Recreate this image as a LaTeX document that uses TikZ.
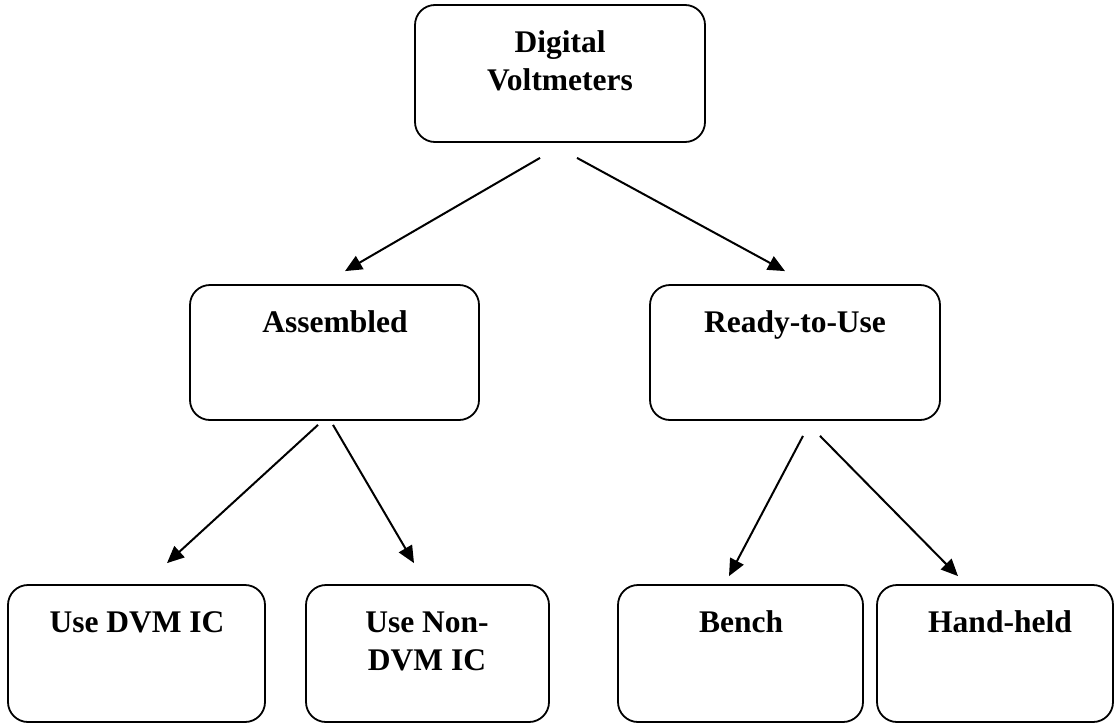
\documentclass[tikz,border=0pt]{standalone}
\usepackage{fontspec}
\setmainfont{Liberation Serif}
\usetikzlibrary{arrows.meta,calc}
\begin{document}
\begin{tikzpicture}[x=1pt,y=-1pt,
  box/.style={draw, line width=1.8pt, rounded corners=20pt, inner sep=0pt},
  lbl/.style={font=\fontsize{31.5}{37.8}\selectfont\bfseries, inner sep=0pt, align=center, anchor=base},
  arr/.style={-{Triangle[length=17pt,width=15pt]}, line width=2pt}]
\useasboundingbox (0,0) rectangle (1115,723);
% boxes
\node[box, minimum width=290pt, minimum height=137pt] (top) at (560,73.5) {};
\node[box, minimum width=289pt, minimum height=135pt] (asm) at (334.5,352.5) {};
\node[box, minimum width=290pt, minimum height=135pt] (rdy) at (795,352.5) {};
\node[box, minimum width=257pt, minimum height=137pt] (dvm) at (136.5,653.5) {};
\node[box, minimum width=243pt, minimum height=137pt] (ndv) at (427.5,653.5) {};
\node[box, minimum width=245pt, minimum height=137pt] (ben) at (740.5,653.5) {};
\node[box, minimum width=236pt, minimum height=137pt] (hnd) at (995,653.5) {};
% labels (multi-line: base anchor is the last line)
\node[lbl] (topt) at (560,90) {Digital\\Voltmeters};
\node[lbl] (asmt) at (335,332) {Assembled};
\node[lbl] (rdyt) at (795,332) {Ready-to-Use};
\node[lbl] (dvmt) at (137,632) {Use DVM IC};
\node[lbl] (ndvt) at (427,670) {Use Non-\\DVM IC};
\node[lbl] (bent) at (741,632) {Bench};
\node[lbl] (hndt) at (1000,632) {Hand-held};
% connector ends
\coordinate (s1) at ($(top.south)+(-20,15)$);
\coordinate (e1) at ($(asm.north)+(10.5,-13)$);
\coordinate (s2) at ($(top.south)+(17,15)$);
\coordinate (e2) at ($(rdy.north)+(-10,-13)$);
\coordinate (s3) at ($(asm.south)+(-16.5,4)$);
\coordinate (e3) at ($(dvm.north)+(30.5,-21)$);
\coordinate (s4) at ($(asm.south)+(-1.5,4)$);
\coordinate (e4) at ($(ndv.north)+(-13.5,-21)$);
\coordinate (s5) at ($(rdy.south)+(8,15)$);
\coordinate (e5) at ($(ben.north)+(-11.5,-8)$);
\coordinate (s6) at ($(rdy.south)+(25,15)$);
\coordinate (e6) at ($(hnd.north)+(-37,-8)$);
\draw[arr] (s1) -- (e1);
\draw[arr] (s2) -- (e2);
\draw[arr] (s3) -- (e3);
\draw[arr] (s4) -- (e4);
\draw[arr] (s5) -- (e5);
\draw[arr] (s6) -- (e6);
\end{tikzpicture}
\end{document}
